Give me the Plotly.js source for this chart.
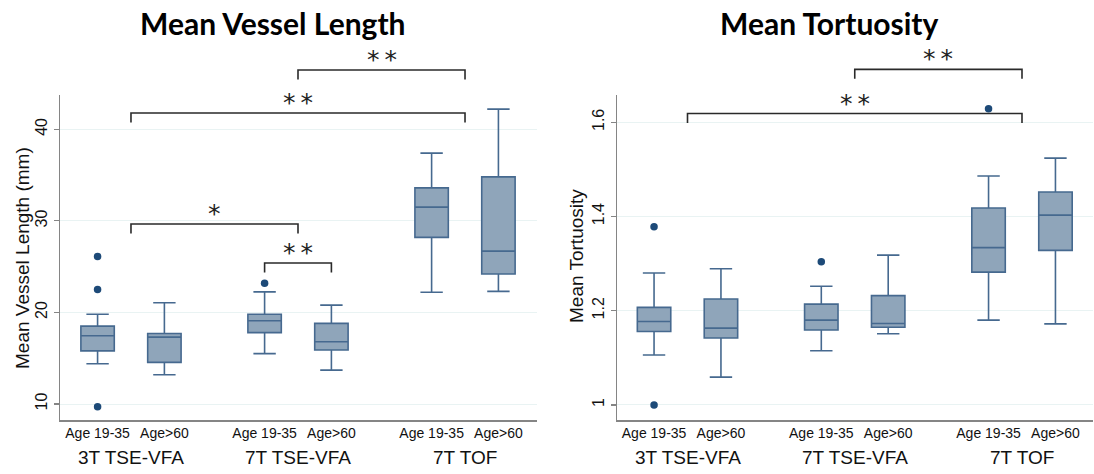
<!DOCTYPE html>
<html><head><meta charset="utf-8">
<script src="https://cdn.plot.ly/plotly-3.0.1.min.js"></script>
<style>body{margin:0;background:#fff}#chart{width:1094px;height:474px}</style>
</head><body><div id="chart"></div>
<script>
// ---------- data ----------
const groups = ['3T TSE-VFA', '7T TSE-VFA', '7T TOF'];
const ages = ['Age 19-35', 'Age>60'];

// Mean Vessel Length (mm); boxes ordered: 3T young, 3T old, 7T young, 7T old, TOF young, TOF old
const lenLower  = [14.4, 13.2, 15.5, 13.7, 22.2, 22.3];
const lenQ1     = [15.8, 14.55, 17.8, 15.9, 28.2, 24.2];
const lenMedian = [17.45, 17.3, 19.1, 16.8, 31.5, 26.7];
const lenQ3     = [18.5, 17.7, 19.8, 18.8, 33.6, 34.8];
const lenUpper  = [19.8, 21.05, 22.25, 20.8, 37.4, 42.2];
const lenOutBox = [0, 0, 0, 2];
const lenOutVal = [26.1, 22.5, 9.7, 23.2];
const lenTickVals = [10, 20, 30, 40];
const lenTickText = ['10', '20', '30', '40'];

// Mean Tortuosity
const torLower  = [1.106, 1.059, 1.115, 1.151, 1.180, 1.172];
const torQ1     = [1.156, 1.142, 1.159, 1.165, 1.282, 1.328];
const torMedian = [1.177, 1.163, 1.180, 1.173, 1.334, 1.403];
const torQ3     = [1.207, 1.225, 1.214, 1.232, 1.418, 1.452];
const torUpper  = [1.280, 1.289, 1.252, 1.318, 1.486, 1.524];
const torOutBox = [0, 0, 2, 4];
const torOutVal = [1.378, 1.0, 1.304, 1.629];
const torTickVals = [1, 1.2, 1.4, 1.6];
const torTickText = ['1', '1.2', '1.4', '1.6'];

// significance brackets (group index, age index or null for group centre)
const lenSigFromGroup = [0, 1, 0, 1];
const lenSigFromAge   = [null, 0, null, null];
const lenSigToGroup   = [1, 1, 2, 2];
const lenSigToAge     = [null, 1, null, null];
const lenSigLevel     = [29.66, 25.4, 41.78, 46.47];
const lenSigText      = ['*', '**', '**', '**'];

const torSigFromGroup = [0, 1];
const torSigFromAge   = [null, null];
const torSigToGroup   = [2, 2];
const torSigToAge     = [null, null];
const torSigLevel     = [1.6186, 1.7124];
const torSigText      = ['**', '**'];

// ---------- styling / layout ----------
const W = 1094, H = 474;
const BOXGAP = 0.2, BOXGROUPGAP = 0.5;
const OFF = (1 - BOXGAP) / 4;
const YDOM = [1 - 420 / H, 1 - 94.5 / H];
const X1DOM = [60 / W, 537 / W];
const X2DOM = [617 / W, 1093 / W];
const X1RANGE = [-0.425, 2.431];
const X2RANGE = [-0.4215, 2.4245];
const Y1RANGE = [8.253, 43.8];
const Y2RANGE = [0.968, 1.659];

const FILL = '#8fa5ba', LINE = '#46698f', DOT = '#1d4a78';
const AXC = '#858585', GRID = '#e9f3f3';
const FONT = 'Liberation Sans, Arial, sans-serif';

function pos(g, a) { return a === null ? g : g + (a === 0 ? -OFF : OFF); }
const groupIdx = groups.map((g, i) => i);
const tickPos = [], tickTxt = [];
groupIdx.forEach(g => ages.forEach((a, ai) => { tickPos.push(pos(g, ai)); tickTxt.push(a); }));

function boxTraces(lo, q1, me, q3, up, xa, ya) {
  return ages.map((a, ai) => {
    const idx = groupIdx.map(g => g * 2 + ai);
    return {
      type: 'box', name: a, x: groupIdx,
      lowerfence: idx.map(i => lo[i]), q1: idx.map(i => q1[i]), median: idx.map(i => me[i]),
      q3: idx.map(i => q3[i]), upperfence: idx.map(i => up[i]),
      alignmentgroup: xa, offsetgroup: 'age' + ai,
      boxpoints: false, fillcolor: FILL, line: {color: LINE, width: 1.6},
      whiskerwidth: 0.67, xaxis: xa, yaxis: ya, showlegend: false, hoverinfo: 'y'
    };
  });
}
function outlierTrace(boxes, vals, xa, ya) {
  return {
    type: 'scatter', mode: 'markers', x: boxes.map(b => pos(Math.floor(b / 2), b % 2)), y: vals,
    marker: {color: DOT, size: 7.5}, xaxis: xa, yaxis: ya, showlegend: false, hoverinfo: 'y'
  };
}
function paperY(v, r) { return YDOM[0] + (v - r[0]) / (r[1] - r[0]) * (YDOM[1] - YDOM[0]); }

const shapes = [], annotations = [];
function addBrackets(fg, fa, tg, ta, lev, txt, xref, yr) {
  const hook = 9.5 / H;
  lev.forEach((v, i) => {
    const x1 = pos(fg[i], fa[i]), x2 = pos(tg[i], ta[i]);
    const yl = paperY(v, yr);
    shapes.push({type: 'path', xref: xref, yref: 'paper',
      path: `M ${x1},${yl - hook} L ${x1},${yl} L ${x2},${yl} L ${x2},${yl - hook}`,
      line: {color: '#2a2a2a', width: 1.6}});
    annotations.push({xref: xref, yref: 'paper', x: (x1 + x2) / 2, y: yl, xanchor: 'center', yanchor: 'bottom',
      yshift: -6, text: txt[i].split('').join('\u2009'), showarrow: false,
      font: {family: 'DejaVu Sans, sans-serif', size: 25, color: '#222'}});
  });
}
addBrackets(lenSigFromGroup, lenSigFromAge, lenSigToGroup, lenSigToAge, lenSigLevel, lenSigText, 'x', Y1RANGE);
addBrackets(torSigFromGroup, torSigFromAge, torSigToGroup, torSigToAge, torSigLevel, torSigText, 'x2', Y2RANGE);

// group labels under the axes
groups.forEach((g, i) => {
  ['x', 'x2'].forEach(xr => annotations.push({xref: xr, yref: 'paper', x: i, y: 1 - 457 / H,
    xanchor: 'center', yanchor: 'middle', text: g, showarrow: false,
    font: {family: FONT, size: 19, color: '#111'}}));
});
// titles
annotations.push({xref: 'paper', yref: 'paper', x: 273 / W, y: 1 - 23 / H, xanchor: 'center', yanchor: 'middle',
  showarrow: false, text: '<b>Mean Vessel Length</b>',
  font: {family: 'Lato, Open Sans, sans-serif', size: 30, color: '#000'}});
annotations.push({xref: 'paper', yref: 'paper', x: 829 / W, y: 1 - 23 / H, xanchor: 'center', yanchor: 'middle',
  showarrow: false, text: '<b>Mean Tortuosity</b>',
  font: {family: 'Lato, Open Sans, sans-serif', size: 30, color: '#000'}});
// y-axis titles
annotations.push({xref: 'paper', yref: 'paper', x: 22 / W, y: 1 - 258 / H, xanchor: 'center', yanchor: 'middle',
  textangle: -90, showarrow: false, text: 'Mean Vessel Length (mm)',
  font: {family: FONT, size: 19, color: '#111'}});
annotations.push({xref: 'paper', yref: 'paper', x: 577 / W, y: 1 - 256 / H, xanchor: 'center', yanchor: 'middle',
  textangle: -90, showarrow: false, text: 'Mean Tortuosity',
  font: {family: FONT, size: 19, color: '#111'}});

function xAxis(dom, range, anchor) {
  return {domain: dom, range: range, anchor: anchor, tickmode: 'array', tickvals: tickPos, ticktext: tickTxt,
    ticks: '', showline: true, linecolor: AXC, linewidth: 1.5, showgrid: false, zeroline: false,
    tickfont: {family: FONT, size: 14, color: '#111'}, fixedrange: true};
}
function yAxis(range, tv, tt, anchor) {
  return {domain: YDOM, range: range, anchor: anchor, tickmode: 'array', tickvals: tv, ticktext: tt,
    tickangle: -90, ticks: 'outside', ticklen: 5, tickwidth: 1.2, tickcolor: AXC,
    showline: true, linecolor: AXC, linewidth: 1.5, showgrid: true, gridcolor: GRID, gridwidth: 1,
    zeroline: false, tickfont: {family: FONT, size: 16, color: '#111'}, fixedrange: true};
}

const data = [
  ...boxTraces(lenLower, lenQ1, lenMedian, lenQ3, lenUpper, 'x', 'y'),
  outlierTrace(lenOutBox, lenOutVal, 'x', 'y'),
  ...boxTraces(torLower, torQ1, torMedian, torQ3, torUpper, 'x2', 'y2'),
  outlierTrace(torOutBox, torOutVal, 'x2', 'y2')
];

const layout = {
  width: W, height: H, margin: {l: 0, r: 0, t: 0, b: 0},
  paper_bgcolor: '#fff', plot_bgcolor: '#fff', showlegend: false,
  boxmode: 'group', boxgap: BOXGAP, boxgroupgap: BOXGROUPGAP,
  font: {family: FONT, color: '#111'},
  xaxis: xAxis(X1DOM, X1RANGE, 'y'),
  yaxis: yAxis(Y1RANGE, lenTickVals, lenTickText, 'x'),
  xaxis2: xAxis(X2DOM, X2RANGE, 'y2'),
  yaxis2: yAxis(Y2RANGE, torTickVals, torTickText, 'x2'),
  shapes: shapes, annotations: annotations
};

Plotly.newPlot('chart', data, layout, {displayModeBar: false, staticPlot: true});
</script></body></html>
